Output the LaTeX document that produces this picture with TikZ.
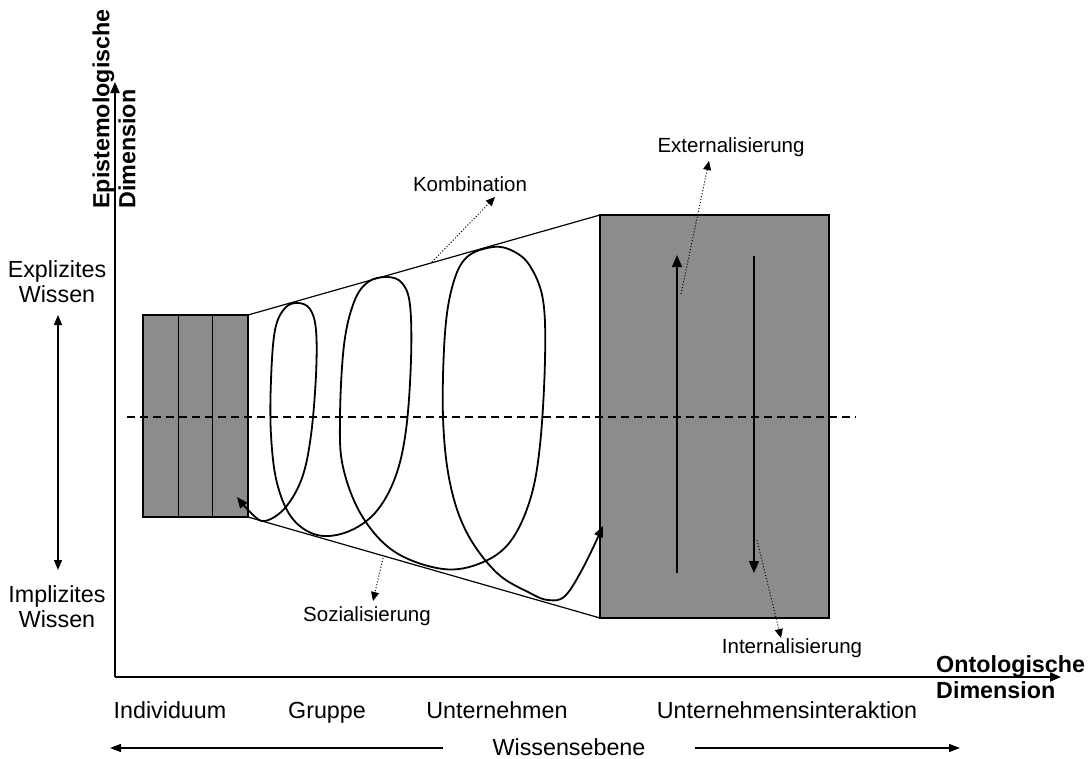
\documentclass[tikz,border=0pt]{standalone}
\usepackage{fontspec}
\setmainfont{Liberation Sans}
\usetikzlibrary{arrows.meta}
\definecolor{boxgray}{RGB}{140,140,140}
\begin{document}
\begin{tikzpicture}[x=1pt,y=-1pt,
  big/.style={font=\fontsize{23.3}{25}\selectfont, inner sep=0pt, align=center},
  level/.style={font=\fontsize{23.3}{25}\selectfont, inner sep=0pt, anchor=base},
  small/.style={font=\fontsize{20.5}{24}\selectfont, inner sep=0pt},
  axislabel/.style={font=\fontsize{23.3}{26}\selectfont\bfseries, inner sep=0pt, align=left},
  axisline/.style={line width=1.8pt, -{Triangle[length=11pt,width=9pt]}},
  levelbox/.style={draw=black, line width=1.2pt, fill=boxgray},
  funnel/.style={line width=1.2pt},
  spiral/.style={line width=1.8pt, line join=round,
    {Triangle[length=11pt,width=9pt]}-{Triangle[length=11pt,width=9pt]}},
  transfer/.style={line width=1.7pt, -{Triangle[length=12pt,width=10pt]}},
  pointer/.style={line width=1pt, dotted, -{Triangle[length=9pt,width=8pt]}},
  levelarrow/.style={line width=1.4pt, -{Triangle[length=11pt,width=8pt]}},
]
\useasboundingbox (0,0) rectangle (1090,758);

% axes
\coordinate (O) at (115,677);
\coordinate (ytip) at (115,82);
\coordinate (xtip) at (1061,677);
\draw[axisline] (O) -- (ytip);
\draw[axisline] (O) -- (xtip);
\node[axislabel, rotate=90] (epi) at (114,109) {Epistemologische\\Dimension};
\node[axislabel, anchor=west] (onto) at (936,677) {Ontologische\\Dimension};

% explicit / implicit knowledge
\node[big] (expl) at (57,282) {Explizites\\Wissen};
\node[big] (impl) at (57,607) {Implizites\\Wissen};
\coordinate (ea) at (58,315);
\coordinate (ia) at (58,570);
\draw[line width=1.4pt, {Triangle[length=10pt,width=8pt]}-{Triangle[length=10pt,width=8pt]}] (ea) -- (ia);

% individual level: three columns
\coordinate (Lnw) at (143,315);
\coordinate (Lse) at (248,517);
\draw[levelbox] (Lnw) rectangle (Lse);
\draw[line width=1.2pt] (178.5,315) -- (178.5,517) (212.5,315) -- (212.5,517);

% inter-organisational level
\coordinate (Rnw) at (600,215);
\coordinate (Rse) at (829,618);
\draw[levelbox] (Rnw) rectangle (Rse);

% funnel edges
\coordinate (Lne) at (248,315);
\coordinate (Rsw) at (600,618);
\draw[funnel] (Lne) -- (Rnw);
\draw[funnel] (Lse) -- (Rsw);

% tacit/explicit divide
\coordinate (dl) at (127,417);
\coordinate (dr) at (856,417);
\draw[line width=1.2pt, dash pattern=on 8pt off 5pt] (dl) -- (dr);

% knowledge spiral
\draw[spiral] plot[smooth, tension=0.6] coordinates {
  (237,497) (252,514) (265,521) (285,508) (302,478) (311,435) (316,375)
  (316,330) (310,309) (298,303) (285,308) (275,330) (271,380) (271,435)
  (277,483) (292,518) (317,535) (347,532) (375,513) (395,478) (406,430)
  (411,360) (410,305) (402,283) (387,277) (368,282) (354,302) (344,345)
  (340,417) (343,467) (362,516) (395,552) (443,569) (481,563) (510,542)
  (530,500) (540,445) (545,360) (543,300) (530,266) (513,251) (493,247)
  (467,257) (453,284) (445,333) (443,417) (450,483) (467,533) (497,573)
  (530,593) (548,600) (565,596) (584,566) (603,526)};

% externalisation / internalisation inside the right box
\coordinate (upfoot) at (677,573);
\coordinate (uptip) at (677,255);
\coordinate (downtop) at (754,256);
\coordinate (downtip) at (754,573);
\draw[transfer] (upfoot) -- (uptip);
\draw[transfer] (downtop) -- (downtip);

% mode labels
\node[small] (komb) at (470,184) {Kombination};
\coordinate (kombfoot) at (432,262);
\coordinate (kombtip) at (495,197);
\draw[pointer] (kombfoot) -- (kombtip);

\node[small] (sozi) at (367,616) {Sozialisierung};
\coordinate (sozifoot) at (383,558);
\coordinate (sozitip) at (373,601);
\draw[pointer] (sozifoot) -- (sozitip);

\node[small] (ext) at (731,147) {Externalisierung};
\coordinate (extfoot) at (681,294);
\coordinate (exttip) at (709,161);
\draw[pointer] (extfoot) -- (exttip);

\node[small] (int) at (792,648) {Internalisierung};
\coordinate (intfoot) at (757,540);
\coordinate (inttip) at (781,638);
\draw[pointer] (intfoot) -- (inttip);

% levels along the ontological dimension
\node[level] (indiv) at (170,718) {Individuum};
\node[level] (grp) at (327,718) {Gruppe};
\node[level] (unt) at (497,718) {Unternehmen};
\node[level] (inter) at (787,718) {Unternehmensinteraktion};
\node[level] (ebene) at (569,755) {Wissensebene};
\coordinate (la) at (443,748);
\coordinate (lt) at (110,748);
\coordinate (ra) at (695,748);
\coordinate (rt) at (960,748);
\draw[levelarrow] (la) -- (lt);
\draw[levelarrow] (ra) -- (rt);
\end{tikzpicture}
\end{document}
